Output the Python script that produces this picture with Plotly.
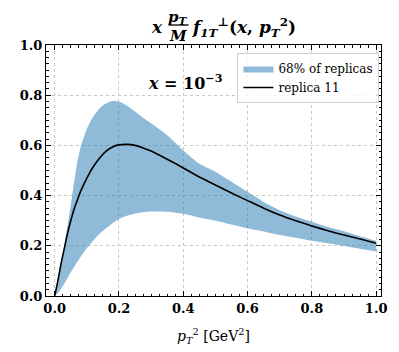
import plotly.graph_objects as go

# p_T^2 grid and values
pt2 = [0.0, 0.01, 0.02, 0.03, 0.04, 0.05, 0.06, 0.07, 0.08, 0.1, 0.12, 0.14, 0.16, 0.18,
       0.2, 0.225, 0.25, 0.275, 0.3, 0.35, 0.4, 0.45, 0.5, 0.55, 0.6, 0.65, 0.7,
       0.75, 0.8, 0.85, 0.9, 0.95, 1.0]
replica11 = [0.0, 0.06, 0.13, 0.19, 0.25, 0.30, 0.345, 0.38, 0.415, 0.47, 0.515, 0.55, 0.577, 0.594,
             0.602, 0.604, 0.600, 0.59, 0.578, 0.545, 0.51, 0.474, 0.442, 0.41, 0.38, 0.35, 0.323,
             0.30, 0.279, 0.26, 0.243, 0.227, 0.21]
band_hi = [0.0, 0.05, 0.12, 0.2, 0.28, 0.36, 0.45, 0.53, 0.59, 0.665, 0.715, 0.748, 0.768, 0.777,
           0.775, 0.758, 0.735, 0.71, 0.688, 0.64, 0.58, 0.527, 0.495, 0.455, 0.415, 0.375, 0.342,
           0.317, 0.296, 0.275, 0.258, 0.238, 0.22]
band_lo = [0.0, 0.012, 0.03, 0.05, 0.073, 0.095, 0.115, 0.135, 0.154, 0.19, 0.221, 0.248, 0.27, 0.29,
           0.307, 0.32, 0.329, 0.334, 0.337, 0.336, 0.328, 0.313, 0.30, 0.285, 0.27, 0.257, 0.243,
           0.232, 0.22, 0.21, 0.199, 0.188, 0.177]

xticks = [0.0, 0.2, 0.4, 0.6, 0.8, 1.0]
yticks = [0.0, 0.2, 0.4, 0.6, 0.8, 1.0]

# page body has an 8px margin, so the figure is drawn 8px smaller and offset
OFF = 8
W, H = 399 - OFF, 352 - OFF
L, R, T, B = 37 - OFF, 12, 45 - OFF, 56


def px(x):
    return (x - OFF - L) / (W - L - R)


def py(y):
    return (H - B - (y - OFF)) / (H - T - B)


serif = "DejaVu Serif"

fig = go.Figure()
fig.add_trace(go.Scatter(x=pt2, y=band_lo, mode="lines", line=dict(width=0, shape="spline", smoothing=0.6),
                         showlegend=False, hoverinfo="skip"))
fig.add_trace(go.Scatter(x=pt2, y=band_hi, mode="lines", line=dict(width=0, shape="spline", smoothing=0.6),
                         fill="tonexty", fillcolor="rgba(31,119,180,0.5)",
                         name="68% of replicas"))
fig.add_trace(go.Scatter(x=pt2, y=replica11, mode="lines",
                         line=dict(color="black", width=1.6, shape="spline", smoothing=0.6),
                         name="replica 11"))

axis = dict(showline=True, linecolor="black", linewidth=1, mirror="allticks",
            ticks="inside", ticklen=5, tickcolor="black", tickwidth=1,
            showgrid=True, gridcolor="#c8c8c8", griddash="dot", gridwidth=0.8,
            zeroline=False, tickformat=".1f",
            tickfont=dict(family=serif, size=13, color="black", weight="bold"),
            minor=dict(ticks="inside", ticklen=2.5, tickcolor="black", dtick=0.025, showgrid=False))

fig.update_xaxes(axis, range=[-0.027, 1.015], tickvals=xticks)
fig.update_yaxes(axis, range=[0, 1], tickvals=yticks)

mfont = dict(family=serif, size=17, color="black")
ann = [
    dict(x=px(153), y=py(27), text="<b><i>x</i></b>", font=mfont),
    dict(x=px(175), y=py(17), text="<b><i>p<sub>T</sub></i></b>", font=dict(family=serif, size=15, color="black")),
    dict(x=px(175), y=py(36), text="<b><i>M</i></b>", font=dict(family=serif, size=15, color="black")),
    dict(x=px(187), y=py(27), xanchor="left",
         text="<b><i>f</i><sub><i>1T</i></sub><sup>⊥</sup>(<i>x</i>, <i>p</i><sub><i>T</i></sub><sup>2</sup>)</b>",
         font=mfont),
    dict(x=px(183), y=py(82), text="<b><i>x</i> = 10<sup>−3</sup></b>",
         font=dict(family=serif, size=16, color="black")),
    dict(x=px(212), y=py(336),
         text="<i>p</i><sub><i>T</i></sub><sup>2</sup> [GeV<sup>2</sup>]",
         font=dict(family=serif, size=14, color="black")),
]
for a in ann:
    a.setdefault("xanchor", "center")
    a.update(xref="paper", yref="paper", yanchor="middle", showarrow=False)
fig.update_layout(annotations=ann)
fig.add_shape(type="line", xref="paper", yref="paper", x0=px(165), x1=px(186),
              y0=py(25), y1=py(25), line=dict(color="black", width=1.3))

fig.update_layout(
    width=W, height=H,
    margin=dict(l=L, r=R, t=T, b=B),
    plot_bgcolor="white", paper_bgcolor="white",
    legend=dict(x=px(237), y=py(53), xanchor="left", yanchor="top", traceorder="normal",
                bgcolor="rgba(255,255,255,0.8)", bordercolor="#d0d0d0", borderwidth=1,
                font=dict(family=serif, size=12, color="black"),
                itemwidth=30, tracegroupgap=0),
)

fig.write_html("out.html")
